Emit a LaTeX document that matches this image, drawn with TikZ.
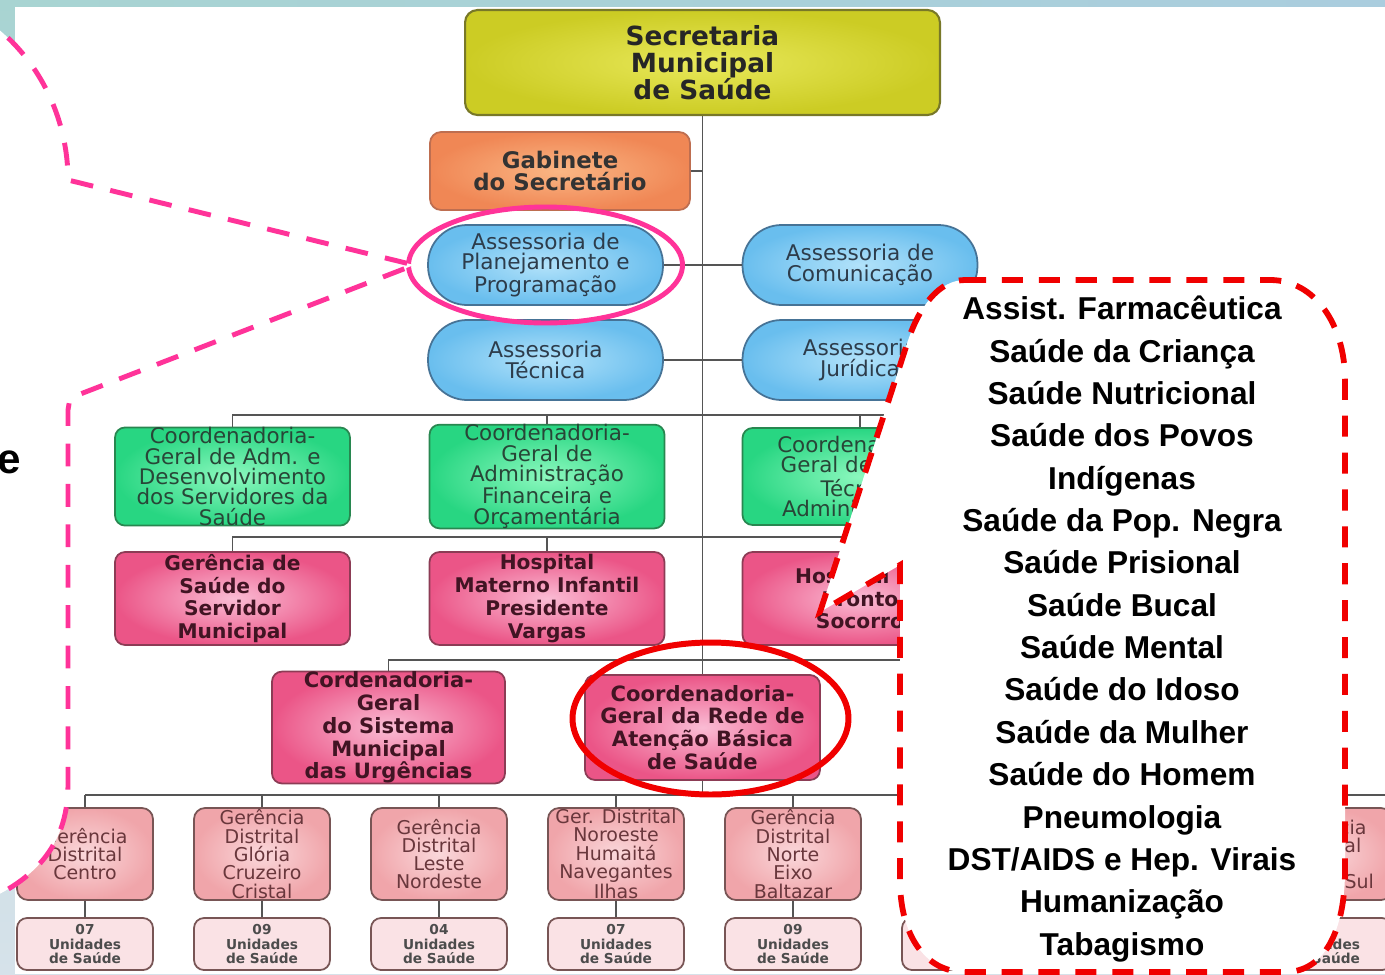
\documentclass[tikz,border=0pt]{standalone}
\usepackage{fontspec}
\newfontfamily\chartfont{DejaVu Sans}
\newfontfamily\callfont{Liberation Sans}
\usetikzlibrary{positioning}

\definecolor{slideteal}{RGB}{168,212,210}
\definecolor{slidegrey}{RGB}{214,226,234}
\definecolor{slideblue}{RGB}{170,205,222}
\definecolor{wirecol}{RGB}{85,85,85}
\definecolor{secin}{RGB}{232,232,90}
\definecolor{secout}{RGB}{204,204,36}
\definecolor{secline}{RGB}{120,120,40}
\definecolor{gabin}{RGB}{250,182,132}
\definecolor{gabout}{RGB}{240,135,85}
\definecolor{gabline}{RGB}{190,110,80}
\definecolor{assin}{RGB}{178,226,250}
\definecolor{assout}{RGB}{105,190,238}
\definecolor{assline}{RGB}{70,115,150}
\definecolor{asstext}{RGB}{45,60,75}
\definecolor{coordin}{RGB}{140,248,190}
\definecolor{coordout}{RGB}{40,214,130}
\definecolor{coordline}{RGB}{40,135,80}
\definecolor{coordtext}{RGB}{40,70,55}
\definecolor{gerin}{RGB}{250,188,212}
\definecolor{gerout}{RGB}{235,85,135}
\definecolor{gerline}{RGB}{140,60,85}
\definecolor{gertext}{RGB}{65,20,35}
\definecolor{distin}{RGB}{250,215,218}
\definecolor{distout}{RGB}{240,165,170}
\definecolor{distline}{RGB}{120,85,85}
\definecolor{disttext}{RGB}{105,55,60}
\definecolor{unitfill}{RGB}{250,226,229}
\definecolor{pinkmark}{RGB}{255,51,153}
\definecolor{redmark}{RGB}{240,0,0}

\begin{document}
\begin{tikzpicture}[
        x=0.02cm, y=-0.02cm,
        wire/.style={draw=wirecol, line width=1.1pt},
        secbox/.style={rectangle, rounded corners=0.25cm, draw=secline, line width=1.2pt, inner color=secin, outer color=secout, minimum width=9.5cm, minimum height=2.1cm, inner sep=0pt, align=center, text=black!85, font=\chartfont\bfseries\fontsize{15}{15.5}\selectfont},
        gabbox/.style={rectangle, rounded corners=0.22cm, draw=gabline, line width=1pt, inner color=gabin, outer color=gabout, minimum width=5.2cm, minimum height=1.56cm, inner sep=0pt, align=center, text=black!80, font=\chartfont\bfseries\fontsize{13}{13}\selectfont},
        assbox/.style={rectangle, rounded corners=0.78cm, draw=assline, line width=1pt, inner color=assin, outer color=assout, minimum width=4.7cm, minimum height=1.6cm, inner sep=0pt, align=center, text=asstext, font=\chartfont\fontsize{12.3}{11.8}\selectfont},
        coordbox/.style={rectangle, rounded corners=0.2cm, draw=coordline, line width=1pt, inner color=coordin, outer color=coordout, minimum width=4.7cm, minimum height=1.94cm, inner sep=0pt, align=center, text=coordtext, font=\chartfont\fontsize{12.2}{11.6}\selectfont},
        gerbox/.style={rectangle, rounded corners=0.2cm, draw=gerline, line width=1pt, inner color=gerin, outer color=gerout, minimum width=4.7cm, minimum height=1.86cm, inner sep=0pt, align=center, text=gertext, font=\chartfont\bfseries\fontsize{11.5}{13}\selectfont},
        distbox/.style={rectangle, rounded corners=0.22cm, draw=distline, line width=1pt, inner color=distin, outer color=distout, minimum width=2.72cm, minimum height=1.84cm, inner sep=0pt, align=center, text=disttext, font=\chartfont\fontsize{10.8}{10.4}\selectfont},
        unitbox/.style={rectangle, rounded corners=0.2cm, draw=distline, line width=1pt, fill=unitfill, minimum width=2.72cm, minimum height=1.04cm, inner sep=0pt, align=center, text=black!70, font=\chartfont\bfseries\fontsize{7.8}{8}\selectfont},
        pinkcall/.style={draw=pinkmark, fill=white, line width=2.8pt, dash pattern=on 13pt off 10pt},
        redcall/.style={draw=redmark, fill=white, line width=3.3pt, dash pattern=on 12pt off 9pt},
        pinkring/.style={draw=pinkmark, line width=2.8pt},
        redring/.style={draw=redmark, line width=3.4pt},
        calltext/.style={inner sep=0pt, align=center, font=\callfont\bfseries\fontsize{18}{24.1}\selectfont}
    ]
    \useasboundingbox (0,0) rectangle (1385,974);
    \clip (0,0) rectangle (1385,974);

    % slide background
    \fill[top color=slideteal, bottom color=slidegrey] (0,0) rectangle (1385,974);
    \fill[left color=slideteal, right color=slideblue] (0,0) rectangle (1385,7);
    \fill[white] (15,7) rectangle (1385,974);

    % organogram
    \node[secbox] (sec) at (702.5,62.5) {Secretaria\\Municipal\\de Saúde};
    \node[gabbox] (gab) at (560,171) {Gabinete\\do Secretário};
    \node[assbox] (plan) at (545.5,265) {Assessoria de\\Planejamento e\\Programação};
    \node[assbox] (com) at (860,265) {Assessoria de\\Comunicação};
    \node[assbox] (tecn) at (545.5,360) {Assessoria\\Técnica};
    \node[assbox] (jur) at (860,360) {Assessoria\\Jurídica};
    \node[coordbox] (adm) at (232.5,476.5) {Coordenadoria-\\Geral de Adm. e\\Desenvolvimento\\dos Servidores da\\Saúde};
    \node[coordbox] (fin) at (547,476.5) {Coordenadoria-\\Geral de\\Administração\\Financeira e\\Orçamentária};
    \node[coordbox] (tec) at (860,476.5) {Coordenadoria-\\Geral de Apoio\\Técnico\\Administrativo};
    \node[gerbox] (gss) at (232.5,598.5) {Gerência de\\Saúde do\\Servidor\\Municipal};
    \node[gerbox] (hmi) at (547,598.5) {Hospital\\Materno Infantil\\Presidente\\Vargas};
    \node[gerbox] (hps) at (860,598.5) {Hospital de\\Pronto\\Socorro};
    \node[gerbox, minimum width=4.66cm, minimum height=2.18cm, font=\chartfont\bfseries\fontsize{12}{13}\selectfont] (urg) at (388.5,727.5) {Cordenadoria-\\Geral\\do Sistema\\Municipal\\das Urgências};
    \node[gerbox, minimum height=2.1cm, font=\chartfont\bfseries\fontsize{12}{13}\selectfont] (rede) at (702.5,727.5) {Coordenadoria-\\Geral da Rede de\\Atenção Básica\\de Saúde};

    \coordinate (r1) at (905,415);
    \coordinate (r2) at (905,537);
    \coordinate (r3) at (905,660);
    \coordinate (r4) at (1390,795);

    \draw[wire] (sec) -- (rede);
    \draw[wire] (gab) -- (gab -| sec);
    \draw[wire] (plan) -- (com);
    \draw[wire] (tecn) -- (jur);
    \draw[wire] (adm) |- (r1);
    \draw[wire] (fin) -- (fin |- r1);
    \draw[wire] (tec) -- (tec |- r1);
    \draw[wire] (gss) |- (r2);
    \draw[wire] (hmi) -- (hmi |- r2);
    \draw[wire] (hps) -- (hps |- r2);
    \draw[wire] (urg) |- (r3);
    \draw[wire] (rede) -- (rede |- r4);

    % distritos
    \foreach \cx/\nm/\dtxt/\utxt in {
        85/d1/{Gerência\\Distrital\\Centro}/{07\\Unidades\\de Saúde},
        262/d2/{Gerência\\Distrital\\Glória\\Cruzeiro\\Cristal}/{09\\Unidades\\de Saúde},
        439/d3/{Gerência\\Distrital\\Leste\\Nordeste}/{04\\Unidades\\de Saúde},
        616/d4/{Ger. Distrital\\Noroeste\\Humaitá\\Navegantes\\Ilhas}/{07\\Unidades\\de Saúde},
        793/d5/{Gerência\\Distrital\\Norte\\Eixo\\Baltazar}/{09\\Unidades\\de Saúde},
        970/d6/{}/{},
        1324/d8/{Gerência\\Distrital\\Sul\\Centro-Sul}/{08\\Unidades\\de Saúde}} {
        \node[distbox] (\nm) at (\cx,854) {\dtxt};
        \node[unitbox] (u\nm) at (\cx,944) {\utxt};
        \draw[wire] (\nm) -- (u\nm);
        \draw[wire] (\nm) -- (\nm |- r4);
    }
    \draw[wire] (d1 |- r4) -- (r4);

    % highlights
    \draw[pinkring] (plan.center) ellipse [x radius=2.74cm, y radius=1.16cm];
    \draw[redring] ([shift={(8,-9)}]rede.center) ellipse [x radius=2.76cm, y radius=1.52cm];

    % callouts
    \coordinate (pinktip) at (414,265);
    \coordinate (redtip) at (820,612);
    \filldraw[pinkcall] (-60,-5) .. controls (30,30) and (68,110) .. (68,180) -- (pinktip) -- (70,398) -- (68,410) -- (68,785) .. controls (68,840) and (40,880) .. (-25,905) -- (-60,905) -- cycle;
    \node[calltext, font=\callfont\bfseries\fontsize{24}{24}\selectfont, anchor=east] (cutword) at (21,462) {e};

    \filldraw[redcall] (965,280) -- (1270,280) .. controls (1315,280) and (1345,325) .. (1345,380) -- (1345,870) .. controls (1345,930) and (1325,972) .. (1285,972) -- (965,972) .. controls (925,972) and (900,935) .. (900,880) -- (900,565) -- (redtip) -- (905,350) .. controls (918,305) and (940,280) .. (965,280) -- cycle;
    \node[calltext] (areas) at (1122,629) {Assist. Farmacêutica\\Saúde da Criança\\Saúde Nutricional\\Saúde dos Povos\\Indígenas\\Saúde da Pop. Negra\\Saúde Prisional\\Saúde Bucal\\Saúde Mental\\Saúde do Idoso\\Saúde da Mulher\\Saúde do Homem\\Pneumologia\\DST/AIDS e Hep. Virais\\Humanização\\Tabagismo};
\end{tikzpicture}
\end{document}
